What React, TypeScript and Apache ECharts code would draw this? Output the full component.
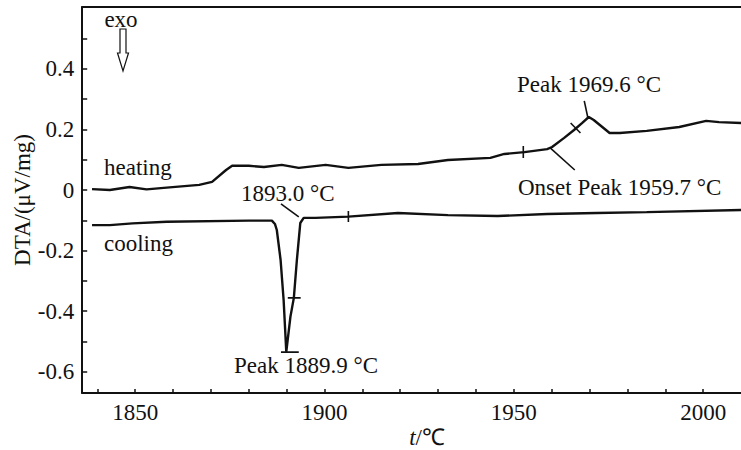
import React, { useEffect, useRef } from "react";
import * as echarts from "echarts";

const FONT = '"Liberation Serif", "Times New Roman", serif';
const INK = "#111";
const FS = 23;

// Axis ticks / labels
const xTickValues = [1840, 1850, 1860, 1870, 1880, 1890, 1900, 1910, 1920, 1930, 1940, 1950, 1960, 1970, 1980, 1990, 2000];
const xLabelValues = [1850, 1900, 1950, 2000];
const yTickValues = [-0.6, -0.5, -0.4, -0.3, -0.2, -0.1, 0, 0.1, 0.2, 0.3, 0.4, 0.5];
const yLabelValues = [-0.6, -0.4, -0.2, 0, 0.2, 0.4];

// Heating curve
const heatingT = [1838.6, 1843.3, 1848.5, 1853.0, 1858.3, 1866.9, 1870.3, 1874.0, 1875.6, 1880.0, 1884.0, 1888.7, 1893.2, 1900.3, 1906.3, 1915.0, 1924.7, 1932.6, 1943.8, 1947.5, 1952.8, 1958.8, 1960.1, 1963.3, 1965.9, 1968.0, 1969.8, 1971.1, 1975.3, 1978.0, 1985.1, 1993.7, 2000.8, 2004.2, 2010];
const heatingDTA = [0.003, 0.0, 0.01, 0.002, 0.008, 0.017, 0.027, 0.066, 0.08, 0.08, 0.076, 0.083, 0.073, 0.083, 0.073, 0.083, 0.086, 0.099, 0.106, 0.119, 0.125, 0.135, 0.142, 0.172, 0.198, 0.221, 0.241, 0.231, 0.188, 0.188, 0.195, 0.208, 0.228, 0.224, 0.221];

// Cooling curve
const coolingT = [1838.6, 1843.3, 1849.3, 1858.3, 1880.0, 1886.1, 1886.9, 1887.4, 1888.4, 1889.2, 1889.9, 1891.0, 1891.9, 1892.7, 1893.6, 1894.5, 1897.6, 1906.3, 1919.4, 1932.6, 1945.7, 1958.8, 1971.9, 1985.1, 2010];
const coolingDTA = [-0.116, -0.116, -0.11, -0.105, -0.101, -0.101, -0.112, -0.132, -0.231, -0.363, -0.534, -0.418, -0.356, -0.231, -0.109, -0.092, -0.092, -0.088, -0.076, -0.083, -0.086, -0.079, -0.076, -0.073, -0.066];

// Annotation segments (data coordinates): [t1, v1, t2, v2]
const markSegments = [
  [1888.5, -0.535, 1893.2, -0.535],
  [1890.3, -0.356, 1893.7, -0.356],
  [1906.3, -0.069, 1906.3, -0.106],
  [1888.5, -0.046, 1893.2, -0.089],
  [1952.5, 0.145, 1952.5, 0.106],
  [1959.6, 0.139, 1966.1, 0.066],
  [1968.6, 0.294, 1969.6, 0.236],
  [1965.0, 0.221, 1967.6, 0.188],
];

const zip = (a: number[], b: number[]) => a.map((v, i) => [v, b[i]]);

export default function App() {
  const ref = useRef<HTMLDivElement>(null);
  useEffect(() => {
    const chart = echarts.init(ref.current!, null, { renderer: "svg" });
    const lineBase = {
      type: "line",
      showSymbol: false,
      symbol: "none",
      silent: true,
      xAxisIndex: 0,
      yAxisIndex: 0,
    };
    const txt = (text: string, x: number, y: number, align = "left", extra: any = {}) => ({
      type: "text",
      x,
      y,
      silent: true,
      style: { text, fontFamily: FONT, fontSize: FS, fill: INK, align, verticalAlign: "middle", ...extra },
    });
    chart.setOption({
      animation: false,
      backgroundColor: "#fff",
      grid: { left: 82.2, right: -4.2, top: 7, bottom: 57, containLabel: false },
      xAxis: [
        {
          type: "value",
          min: 1836,
          max: 2010,
          position: "bottom",
          axisLine: { show: true, onZero: false, lineStyle: { color: INK, width: 2 } },
          axisTick: { show: true, inside: true, length: 4, customValues: xTickValues, lineStyle: { color: INK, width: 1.5 } },
          axisLabel: {
            customValues: xLabelValues,
            fontFamily: FONT,
            fontSize: FS,
            color: INK,
            margin: 8,
            formatter: (v: number) => String(Math.round(v)),
          },
          splitLine: { show: false },
        },
        {
          type: "value",
          min: 1836,
          max: 2010,
          position: "top",
          axisLine: { show: true, onZero: false, lineStyle: { color: INK, width: 2 } },
          axisTick: { show: false },
          axisLabel: { show: false },
          splitLine: { show: false },
        },
      ],
      yAxis: {
        type: "value",
        min: -0.67,
        max: 0.604,
        axisLine: { show: true, onZero: false, lineStyle: { color: INK, width: 2 } },
        axisTick: { show: true, inside: true, length: 5, customValues: yTickValues, lineStyle: { color: INK, width: 1.5 } },
        axisLabel: {
          customValues: yLabelValues,
          fontFamily: FONT,
          fontSize: FS,
          color: INK,
          margin: 8,
          formatter: (v: number) => (Math.abs(v) < 1e-9 ? "0" : v.toFixed(1)),
        },
        splitLine: { show: false },
      },
      series: [
        { ...lineBase, name: "heating", data: zip(heatingT, heatingDTA), lineStyle: { color: INK, width: 2.4 } },
        { ...lineBase, name: "cooling", data: zip(coolingT, coolingDTA), lineStyle: { color: INK, width: 2.4 } },
        ...markSegments.map((s, i) => ({
          ...lineBase,
          name: "mark" + i,
          data: [
            [s[0], s[1]],
            [s[2], s[3]],
          ],
          lineStyle: { color: INK, width: 1.6 },
        })),
      ],
      graphic: [
        txt("exo", 121, 19, "center"),
        {
          type: "polygon",
          silent: true,
          shape: { points: [[120, 29], [126, 29], [126, 53], [128.5, 53], [123, 71], [117.5, 53], [120, 53]] },
          style: { fill: "#fff", stroke: INK, lineWidth: 1.2 },
        },
        txt("heating", 104, 167),
        txt("cooling", 104, 243),
        txt("1893.0 °C", 241, 193),
        txt("Peak 1889.9 °C", 234, 365),
        txt("Peak 1969.6 °C", 517, 84),
        txt("Onset Peak 1959.7 °C", 518, 187),
        {
          type: "text",
          x: 427,
          y: 437,
          silent: true,
          style: {
            text: "{i|t}/℃",
            fontFamily: FONT,
            fontSize: FS,
            fill: INK,
            align: "center",
            verticalAlign: "middle",
            rich: { i: { fontStyle: "italic", fontFamily: FONT, fontSize: FS, fill: INK } },
          },
        },
        {
          type: "text",
          x: 22,
          y: 200,
          rotation: Math.PI / 2,
          silent: true,
          style: { text: "DTA/(μV/mg)", fontFamily: FONT, fontSize: FS, fill: INK, align: "center", verticalAlign: "middle" },
        },
      ],
    });
    return () => chart.dispose();
  }, []);
  return (
    <div
      ref={ref}
      style={{ position: "fixed", left: 0, top: 0, width: 741, height: 450, background: "#fff" }}
    />
  );
}
